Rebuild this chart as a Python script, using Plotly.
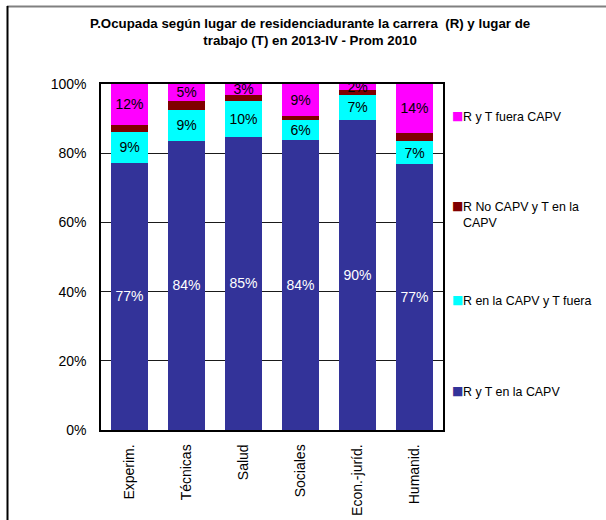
import plotly.graph_objects as go

categories = ["Experim.", "Técnicas", "Salud", "Sociales", "Econ.-juríd.", "Humanid."]

series_names = ["R y T en la CAPV", "R en la CAPV y T fuera", "R No CAPV y T en la<br>CAPV", "R y T fuera CAPV"]
ryt_capv = [77.2, 83.6, 84.8, 83.7, 89.6, 76.8]
r_capv_t_fuera = [8.9, 9.0, 10.3, 6.0, 7.3, 6.8]
r_no_capv_t_capv = [2.1, 2.5, 1.8, 1.1, 1.3, 2.3]
ryt_fuera = [11.8, 4.9, 3.1, 9.2, 1.8, 14.1]

y_ticks = [0, 20, 40, 60, 80, 100]
y_tick_labels = ["0%", "20%", "40%", "60%", "80%", "100%"]

colors = ["#333399", "#00FFFF", "#800000", "#FF00FF"]
text_colors = ["white", "black", "black", "black"]
show_labels = [True, True, False, True]

FONT = "Arial, Liberation Sans, sans-serif"

fig = go.Figure()
for name, vals, col, tcol, lab in zip(series_names,
                                      [ryt_capv, r_capv_t_fuera, r_no_capv_t_capv, ryt_fuera],
                                      colors, text_colors, show_labels):
    fig.add_trace(go.Bar(
        x=categories, y=vals, name=name,
        marker=dict(color=col, line=dict(width=0)),
        texttemplate="%{y:.0f}%" if lab else "",
        textposition="inside", insidetextanchor="middle",
        constraintext="none", textangle=0,
        textfont=dict(family=FONT, size=14, color=tcol),
        showlegend=False,
    ))

# plot area in pixels
L, R, T, B = 101, 443, 84, 430
W, H = 606, 520

def px(x):
    return (x - L) / (R - L)

def py(y):
    return (B - y) / (B - T)

fig.update_layout(
    width=W, height=H,
    margin=dict(l=L, r=W - R, t=T, b=H - B, pad=0, autoexpand=False),
    barmode="stack", bargap=0.35,
    plot_bgcolor="white", paper_bgcolor="white",
    font=dict(family=FONT, size=14, color="black"),
)
fig.update_yaxes(range=[0, 100], tickmode="array", tickvals=y_ticks, ticktext=y_tick_labels,
                 showgrid=True, gridcolor="#1a1a1a", gridwidth=1,
                 showline=True, linecolor="black", linewidth=1.5, mirror=True,
                 ticks="", ticklabelstandoff=10, zeroline=False, automargin=False,
                 tickfont=dict(family=FONT, size=14))
fig.update_xaxes(showline=True, linecolor="black", linewidth=1.5, mirror=True,
                 tickangle=-90, ticks="", ticklabelstandoff=7, automargin=False,
                 tickfont=dict(family=FONT, size=14))

# title
fig.add_annotation(xref="paper", yref="paper", x=px(310), y=py(32),
                   text="<b>P.Ocupada según lugar de residenciadurante la carrera  (R) y lugar de<br>trabajo (T) en 2013-IV - Prom 2010</b>",
                   showarrow=False, xanchor="center", yanchor="middle",
                   font=dict(family=FONT, size=13.3, color="black"))

# legend (built from series names and colors)
legend_y = [392, 301, 215, 117]
for name, col, ly in zip(series_names, colors, legend_y):
    n_lines = name.count("<br>") + 1
    sq_y = ly - (n_lines - 1) * 7.5 - 1.5
    fig.add_annotation(xref="paper", yref="paper", x=px(458), y=py(sq_y),
                       text=f"<span style='color:{col}'>■</span>", showarrow=False,
                       xanchor="center", yanchor="middle",
                       font=dict(family="DejaVu Sans", size=12))
    fig.add_annotation(xref="paper", yref="paper", x=px(461), y=py(ly),
                       text=name, showarrow=False, align="left",
                       xanchor="left", yanchor="middle",
                       font=dict(family=FONT, size=12.4, color="black"))

# outer frame (top and left edges visible)
fig.add_shape(type="line", xref="paper", yref="paper", x0=px(7), x1=px(700), y0=py(6.5), y1=py(6.5),
              line=dict(color="#808080", width=2), layer="above")
fig.add_shape(type="line", xref="paper", yref="paper", x0=px(7.5), x1=px(7.5), y0=py(6), y1=py(600),
              line=dict(color="black", width=2), layer="above")

fig.write_html("out.html", config={"displayModeBar": False},
               post_script="document.body.style.margin='0';document.body.style.overflow='hidden';")
